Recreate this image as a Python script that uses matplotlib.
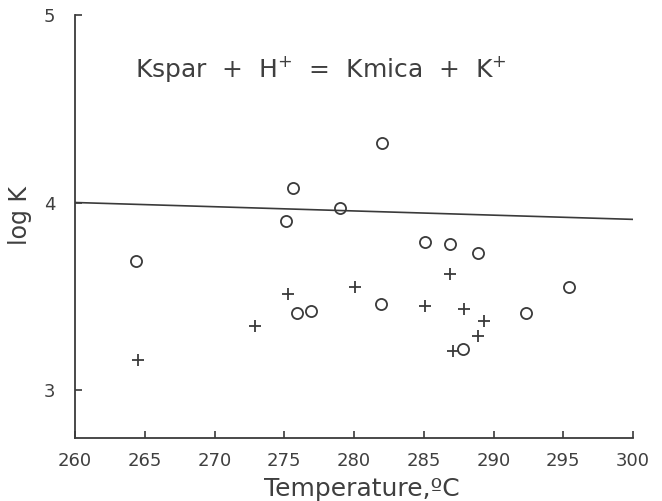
import matplotlib
matplotlib.use("Agg")
import matplotlib.pyplot as plt

# Data
circle_T = [264.4, 275.1, 275.6, 279.0, 282.0, 275.9, 276.9, 281.9, 285.1, 286.9, 288.9, 295.4, 292.3, 287.8]
circle_logK = [3.69, 3.90, 4.08, 3.97, 4.32, 3.41, 3.42, 3.46, 3.79, 3.78, 3.73, 3.55, 3.41, 3.22]

plus_T = [264.5, 272.9, 275.3, 280.1, 285.1, 286.9, 287.9, 289.3, 288.9, 287.1]
plus_logK = [3.16, 3.34, 3.51, 3.55, 3.45, 3.62, 3.43, 3.37, 3.29, 3.21]

line_T = [260, 300]
line_logK = [4.0, 3.91]

xticks = [260, 265, 270, 275, 280, 285, 290, 295, 300]
yticks = [3, 4, 5]

ink = "#3a3a3a"
txt = "#3f3f3f"

fig = plt.figure(figsize=(6.62, 5.01), dpi=100)
ax = fig.add_axes([75/662, 1-438/501, (633-75)/662, (438-15)/501])

ax.plot(line_T, line_logK, color=ink, lw=1.2)
ax.plot(circle_T, circle_logK, linestyle="none", marker="o", ms=8,
        mfc="none", mec=ink, mew=1.3)
ax.plot(plus_T, plus_logK, linestyle="none", marker="+", ms=9,
        color=ink, mew=1.3)

ax.set_xlim(260, 300)
ax.set_ylim(2.744, 5)
ax.set_xticks(xticks)
ax.set_yticks(yticks)
ax.set_xticklabels([str(t) for t in xticks], fontsize=13, color=txt)
ax.set_yticklabels([str(t) for t in yticks], fontsize=13, color=txt)
ax.tick_params(direction="in", length=5, width=1.2, color=ink)
ax.tick_params(axis="x", pad=10)
ax.tick_params(axis="y", pad=14)

for s in ["top", "right"]:
    ax.spines[s].set_visible(False)
for s in ["left", "bottom"]:
    ax.spines[s].set_color(ink)
    ax.spines[s].set_linewidth(1.3)

ax.set_xlabel("Temperature,ºC", fontsize=18, color=txt)
ax.xaxis.set_label_coords(0.514, -0.092, transform=ax.transAxes)
ax.set_ylabel("log K", fontsize=17, color=txt)
ax.yaxis.set_label_coords(-0.077, 0.527, transform=ax.transAxes)

ax.text(264.3, 4.67, "Kspar  +  H$^{+}$  =  Kmica  +  K$^{+}$",
        fontsize=18, color=txt, ha="left", va="baseline")

fig.savefig("out.png", dpi=100)
